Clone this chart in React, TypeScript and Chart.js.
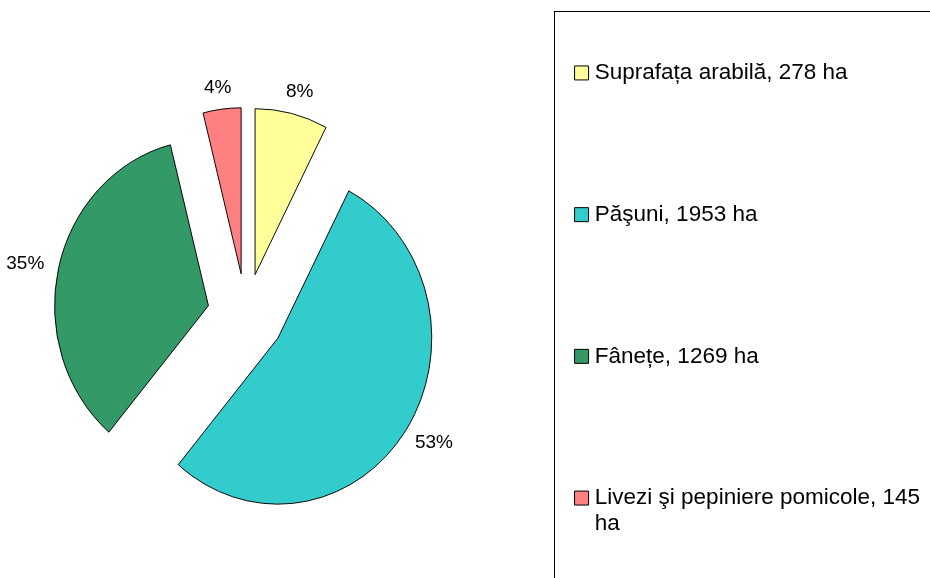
import React, { useEffect, useRef } from 'react';
import { Chart, registerables } from 'chart.js';

Chart.register(...registerables);

// ---- data ----
const CATEGORIES = [
  'Suprafața arabilă, 278 ha',
  'Păşuni, 1953 ha',
  'Fânețe, 1269 ha',
  'Livezi şi pepiniere pomicole, 145 ha',
];
const AREA_HA = [278, 1953, 1269, 145];
const PERCENT_LABELS = ['8%', '53%', '35%', '4%'];
const COLORS = ['#FFFF99', '#33CCCC', '#339966', '#FF8080'];

// ---- style / layout ----
const FONT_FAMILY = '"Liberation Sans", Arial, Helvetica, sans-serif';
const PIE_RADIUS = 166;
const PIE_SQUEEZE_X = 0.927; // the pie in the reference is slightly narrower than tall
const EXPLODE = 41.5; // every slice is pulled out by 25% of the radius
const LABEL_GAP = 22; // distance of the percent labels beyond the radius
const LEGEND_FONT_SIZE = 22.5;
const LEGEND_LINE_HEIGHT = 26;
const LEGEND_LINES = 4;
const LEGEND_PADDING = 37.7;
const LEGEND_WRAP = 340;
const FRAME_GAP = 25.5;
const FRAME_TOP = 11.5;
const CANVAS_SHIFT = 50;
const CANVAS_W = 930 + CANVAS_SHIFT;
const CANVAS_H = 606;
const PAD_TOP = 24;

function wrapText(ctx: CanvasRenderingContext2D, text: string, maxW: number): string[] {
  const words = text.split(' ');
  const lines: string[] = [];
  let cur = '';
  for (const w of words) {
    const t = cur ? cur + ' ' + w : w;
    if (cur && ctx.measureText(t).width > maxW) {
      lines.push(cur);
      cur = w;
    } else {
      cur = t;
    }
  }
  if (cur) lines.push(cur);
  return lines;
}

const explodedPie = {
  id: 'explodedPie',
  beforeDatasetDraw(chart: any, args: any) {
    const ctx: CanvasRenderingContext2D = chart.ctx;
    args.meta.data.forEach((arc: any) => {
      const mid = (arc.startAngle + arc.endAngle) / 2;
      ctx.save();
      ctx.translate(arc.x, arc.y);
      ctx.scale(PIE_SQUEEZE_X, 1);
      ctx.translate(Math.cos(mid) * EXPLODE, Math.sin(mid) * EXPLODE);
      ctx.translate(-arc.x, -arc.y);
      arc.draw(ctx);
      ctx.restore();
    });
    return false;
  },
  afterDatasetsDraw(chart: any) {
    const ctx: CanvasRenderingContext2D = chart.ctx;
    const meta = chart.getDatasetMeta(0);
    ctx.save();
    ctx.font = `19px ${FONT_FAMILY}`;
    ctx.fillStyle = '#000';
    ctx.textAlign = 'center';
    ctx.textBaseline = 'middle';
    meta.data.forEach((arc: any, i: number) => {
      const mid = (arc.startAngle + arc.endAngle) / 2;
      const c = Math.cos(mid);
      const s = Math.sin(mid);
      const apexX = arc.x + PIE_SQUEEZE_X * EXPLODE * c;
      const apexY = arc.y + EXPLODE * s;
      const dist = arc.outerRadius + LABEL_GAP;
      ctx.fillText(PERCENT_LABELS[i], apexX + c * dist, apexY + s * dist);
    });
    ctx.restore();
  },
};

const legendFrame = {
  id: 'legendFrame',
  afterDraw(chart: any) {
    const lg = chart.legend;
    if (!lg) return;
    const ctx: CanvasRenderingContext2D = chart.ctx;
    const x = Math.floor(lg.left + LEGEND_PADDING - FRAME_GAP) + 0.5;
    ctx.save();
    ctx.strokeStyle = '#000';
    ctx.lineWidth = 1;
    ctx.strokeRect(x, FRAME_TOP, chart.width + 20, chart.height + 20);
    ctx.restore();
  },
};

export default function App() {
  const ref = useRef<HTMLCanvasElement>(null);

  useEffect(() => {
    if (!ref.current) return;
    const chart = new Chart(ref.current, {
      type: 'pie',
      data: {
        labels: CATEGORIES,
        datasets: [
          {
            data: AREA_HA,
            backgroundColor: COLORS,
            borderColor: '#000',
            borderWidth: 1,
            borderJoinStyle: 'miter',
            radius: PIE_RADIUS,
          } as any,
        ],
      },
      options: {
        animation: false,
        responsive: true,
        maintainAspectRatio: false,
        events: [],
        layout: { padding: { top: PAD_TOP, left: 0, right: 0, bottom: 0 } },
        plugins: {
          tooltip: { enabled: false },
          legend: {
            position: 'right',
            align: 'start',
            labels: {
              usePointStyle: true,
              pointStyle: 'rect',
              boxWidth: 4,
              boxHeight: 14,
              padding: LEGEND_PADDING,
              color: '#000',
              font: {
                family: FONT_FAMILY,
                size: LEGEND_FONT_SIZE,
                lineHeight: `${LEGEND_LINE_HEIGHT}px`,
              },
              generateLabels: (ch: any) => {
                const ctx: CanvasRenderingContext2D = ch.ctx;
                ctx.save();
                ctx.font = `${LEGEND_FONT_SIZE}px ${FONT_FAMILY}`;
                const labels = ch.data.labels as string[];
                const items = labels.map((label, i) => {
                  const lines = wrapText(ctx, label, LEGEND_WRAP);
                  if (i < labels.length - 1) {
                    while (lines.length < LEGEND_LINES) lines.push('');
                  }
                  return {
                    text: lines,
                    fillStyle: COLORS[i],
                    strokeStyle: '#000',
                    lineWidth: 1,
                    pointStyle: 'rect',
                    fontColor: '#000',
                    hidden: false,
                    index: i,
                  };
                });
                ctx.restore();
                return items as any;
              },
            },
          },
        },
      } as any,
      plugins: [explodedPie, legendFrame],
    });
    return () => chart.destroy();
  }, []);

  return (
    <div
      style={{
        position: 'absolute',
        left: 0,
        top: 0,
        width: 930,
        height: 578,
        overflow: 'hidden',
        background: '#fff',
      }}
    >
      <div
        style={{
          position: 'absolute',
          left: -CANVAS_SHIFT,
          top: 0,
          width: CANVAS_W,
          height: CANVAS_H,
        }}
      >
        <canvas ref={ref} />
      </div>
    </div>
  );
}
